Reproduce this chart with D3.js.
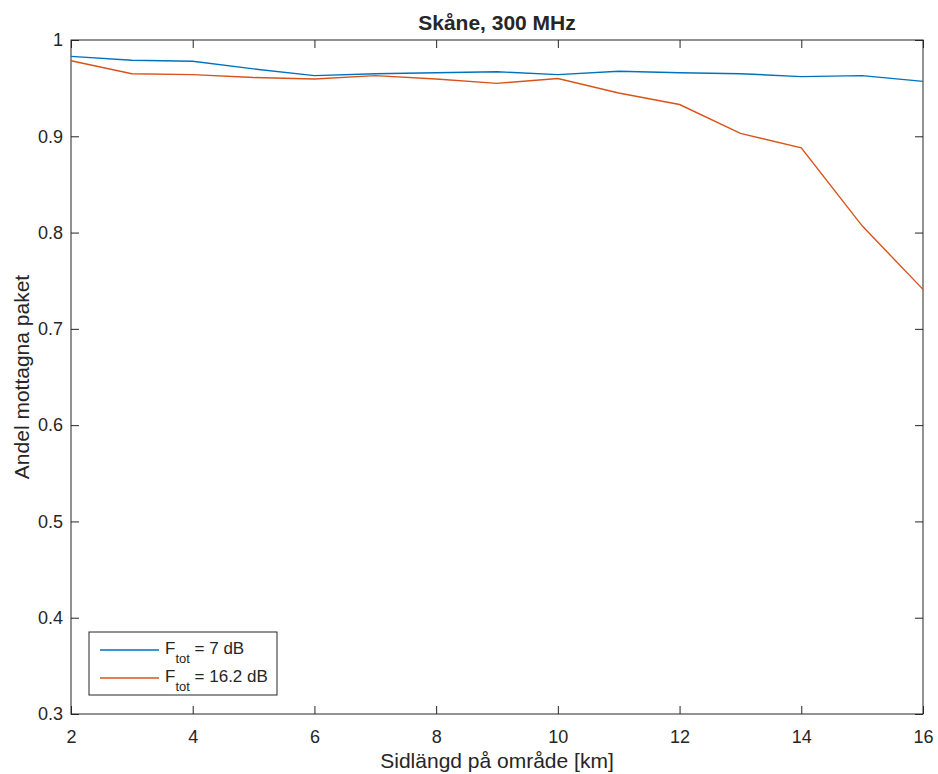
<!DOCTYPE html>
<html>
<head>
<meta charset="utf-8">
<script src="https://cdn.jsdelivr.net/npm/d3@7"></script>
<style>
  body { margin: 0; background: #fff; }
  svg text { font-family: "Liberation Sans", Arial, sans-serif; fill: #262626; }
</style>
</head>
<body>
<div id="chart"></div>
<script>
// data
var sideKm = [2, 3, 4, 5, 6, 7, 8, 9, 10, 11, 12, 13, 14, 15, 16];
var ftot7 = [0.983, 0.979, 0.978, 0.970, 0.963, 0.965, 0.966, 0.967, 0.964, 0.9675, 0.966, 0.965, 0.962, 0.963, 0.957];
var ftot162 = [0.9785, 0.965, 0.964, 0.961, 0.9595, 0.963, 0.9595, 0.955, 0.960, 0.945, 0.933, 0.903, 0.888, 0.807, 0.741];
var xTicks = [2, 4, 6, 8, 10, 12, 14, 16];
var yTicks = [0.3, 0.4, 0.5, 0.6, 0.7, 0.8, 0.9, 1];

var series = [
  {name: "7 dB", values: ftot7, color: "#0072BD"},
  {name: "16.2 dB", values: ftot162, color: "#D95319"}
];

// settings
var W = 938, H = 774;
var margin = {top: 40, right: 15, bottom: 60, left: 71},
    width = W - margin.left - margin.right,
    height = H - margin.top - margin.bottom;

var svg = d3.select("#chart")
  .append("svg")
  .attr("width", W)
  .attr("height", H)
  .append("g")
  .attr("transform", "translate(" + margin.left + "," + margin.top + ")");

var x = d3.scaleLinear().domain([2, 16]).range([0, width]);
var y = d3.scaleLinear().domain([0.3, 1]).range([height, 0]);

var tickLen = 8;
function styleAxis(g) {
  g.select(".domain").remove();
  g.selectAll(".tick line").attr("stroke", "#262626").attr("stroke-width", 1);
  g.selectAll(".tick text").style("font-size", "18px").attr("fill", "#262626");
}

// bottom / left axes with inward ticks
svg.append("g")
  .attr("transform", "translate(0," + height + ")")
  .call(d3.axisBottom(x).tickValues(xTicks).tickSizeInner(-tickLen).tickSizeOuter(0).tickPadding(16).tickFormat(d3.format("d")))
  .call(styleAxis);

svg.append("g")
  .call(d3.axisLeft(y).tickValues(yTicks).tickSizeInner(-tickLen).tickSizeOuter(0).tickPadding(8).tickFormat(function(d) { return d === 1 ? "1" : d3.format(".1f")(d); }))
  .call(styleAxis);

// top / right ticks, no labels
svg.append("g")
  .call(d3.axisTop(x).tickValues(xTicks).tickSizeInner(-tickLen).tickSizeOuter(0).tickFormat(""))
  .call(styleAxis);
svg.append("g")
  .attr("transform", "translate(" + width + ",0)")
  .call(d3.axisRight(y).tickValues(yTicks).tickSizeInner(-tickLen).tickSizeOuter(0).tickFormat(""))
  .call(styleAxis);

// box
svg.append("rect")
  .attr("width", width).attr("height", height)
  .attr("fill", "none").attr("stroke", "#262626").attr("stroke-width", 1);

// lines
var line = d3.line()
  .x(function(d, i) { return x(sideKm[i]); })
  .y(function(d) { return y(d); });

series.forEach(function(s) {
  svg.append("path")
    .datum(s.values)
    .attr("fill", "none")
    .attr("stroke", s.color)
    .attr("stroke-width", 1.4)
    .attr("d", line);
});

// title and labels
svg.append("text")
  .attr("x", width / 2).attr("y", -10)
  .attr("text-anchor", "middle")
  .style("font-size", "21px").style("font-weight", "bold")
  .attr("fill", "#000")
  .text("Skåne, 300 MHz");

svg.append("text")
  .attr("x", width / 2).attr("y", height + 54)
  .attr("text-anchor", "middle")
  .style("font-size", "21px")
  .text("Sidlängd på område [km]");

svg.append("text")
  .attr("transform", "translate(-42," + (height / 2) + ") rotate(-90)")
  .attr("text-anchor", "middle")
  .style("font-size", "21px")
  .text("Andel mottagna paket");

// legend
var legend = svg.append("g").attr("transform", "translate(18," + (height - 82) + ")");
legend.append("rect")
  .attr("width", 188).attr("height", 63)
  .attr("fill", "#fff").attr("stroke", "#262626").attr("stroke-width", 1);

series.forEach(function(s, i) {
  var ly = 18 + i * 28;
  legend.append("line")
    .attr("x1", 11).attr("x2", 70)
    .attr("y1", ly).attr("y2", ly)
    .attr("stroke", s.color).attr("stroke-width", 1.4);
  var t = legend.append("text")
    .attr("x", 76).attr("y", ly + 4)
    .style("font-size", "17px")
    .attr("fill", "#000");
  t.append("tspan").text("F");
  t.append("tspan").attr("dy", 9).style("font-size", "13px").text("tot");
  t.append("tspan").attr("dy", -9).text(" = " + s.name);
});
</script>
</body>
</html>
